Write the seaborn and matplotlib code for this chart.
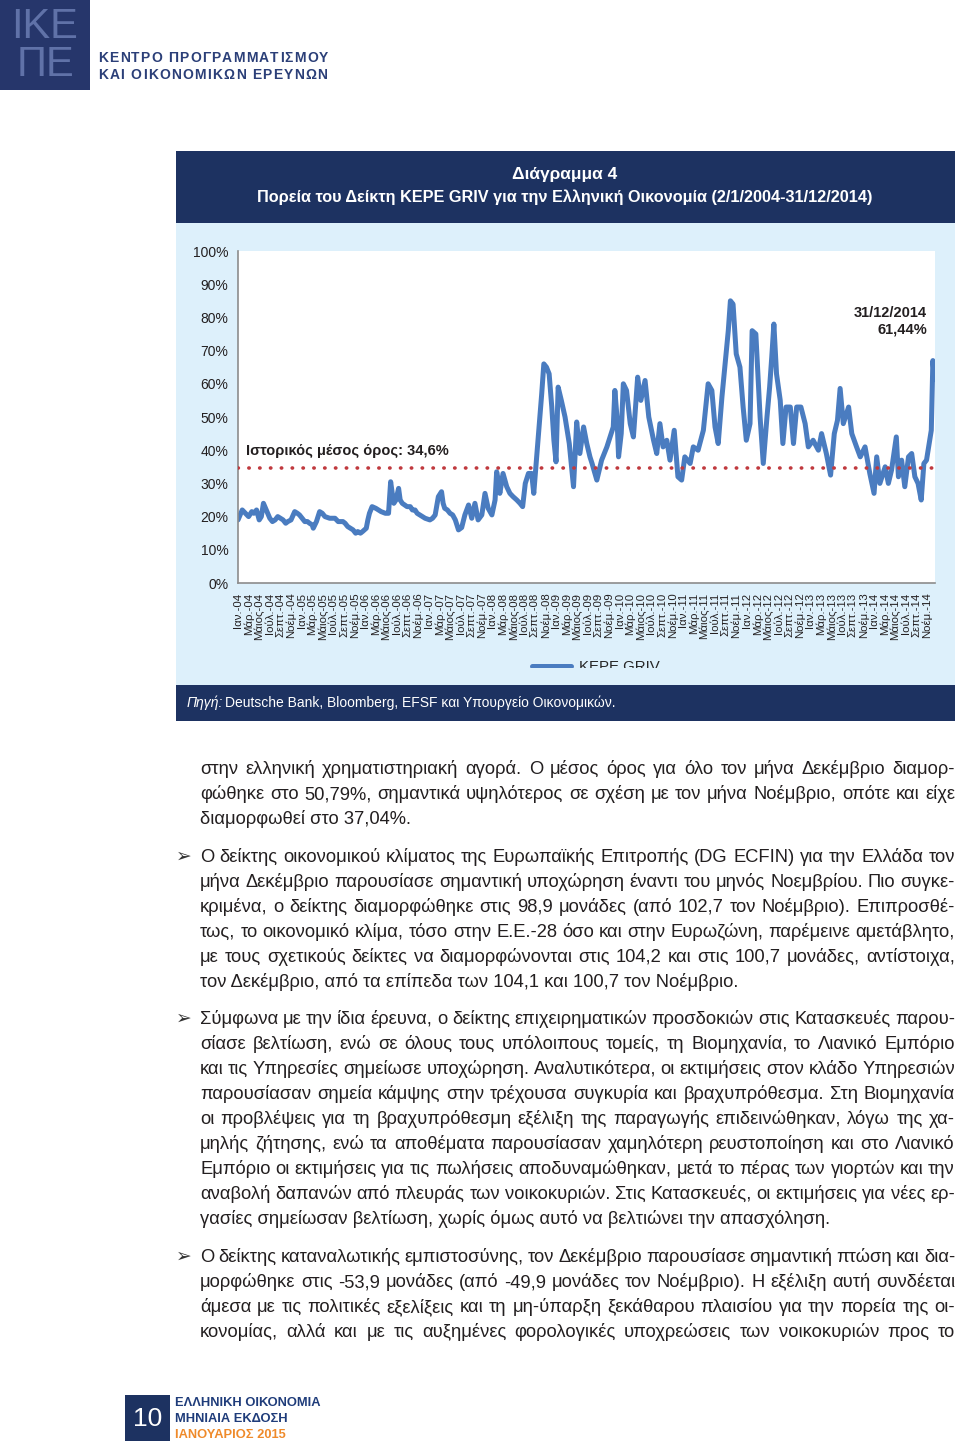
import numpy as np
import pandas as pd
import matplotlib

matplotlib.use("Agg")
import matplotlib.pyplot as plt
from matplotlib.patches import Rectangle
import seaborn as sns

# ------------------------------------------------------------------
# Δεδομένα: δείκτης KEPE GRIV (%), θέση σε μήνες από Ιαν. 2004
# ------------------------------------------------------------------
months = [
    0.0, 0.4, 0.8, 1.4, 2.0, 2.6, 3.0, 3.5, 4.0, 4.4, 4.8, 5.2, 5.6, 6.0, 6.5,
    7.0, 7.5, 8.0, 8.5, 9.0, 9.4, 10.0, 10.7, 11.2, 11.6, 12.1, 12.6, 13.1,
    13.5, 14.0, 14.2, 14.8, 15.4, 15.9, 16.4, 17.3, 18.3, 18.9, 19.8, 20.2,
    20.7, 21.2, 21.7, 22.2, 22.6, 23.1, 23.5, 24.2, 24.5, 24.8, 25.3, 26.0,
    26.5, 27.0, 27.8, 28.4, 28.8, 29.1, 29.4, 29.8, 30.3, 30.6, 31.0, 31.9,
    32.5, 32.9, 33.4, 33.8, 34.3, 35.3, 36.2, 36.7, 37.2, 37.8, 38.4, 38.7,
    39.0, 39.5, 40.0, 40.5, 41.0, 41.6, 42.2, 42.8, 43.5, 44.1, 44.7, 45.3,
    46.0, 46.6, 47.2, 47.9, 48.5, 48.8, 49.1, 49.4, 50.0, 50.7, 51.3, 51.9,
    52.6, 53.2, 53.7, 54.2, 54.8, 55.4, 55.8, 56.2, 56.7, 57.3, 57.7, 58.2,
    58.7, 59.2, 59.6, 60.0, 60.4, 61.0, 61.7, 62.5, 63.3, 63.9, 64.5, 65.2,
    65.8, 66.4, 66.8, 67.7, 68.6, 69.6, 70.2, 70.8, 71.1, 71.5, 71.8, 72.3,
    72.7, 73.3, 74.0, 74.6, 75.4, 76.0, 76.8, 77.5, 78.4, 79.0, 79.6, 80.2,
    80.9, 81.5, 82.3, 83.0, 83.7, 84.3, 85.3, 85.9, 86.8, 87.8, 88.7, 89.4,
    90.0, 90.6, 91.3, 91.9, 92.5, 92.9, 93.4, 94.0, 94.7, 95.3, 95.9, 96.6,
    97.0, 97.7, 98.5, 99.1, 99.8, 100.3, 100.7, 101.1, 101.6, 102.3, 102.8,
    103.4, 104.2, 104.8, 105.4, 106.2, 107.0, 107.6, 108.5, 109.5, 110.1,
    111.0, 111.8, 112.5, 113.1, 113.6, 114.2, 115.2, 115.8, 116.7, 117.4,
    118.3, 119.2, 120.0, 120.5, 121.1, 122.1, 122.7, 123.3, 124.2, 124.6,
    125.2, 125.8, 126.5, 127.1, 127.7, 128.3, 128.9, 129.4, 129.9, 130.4,
    130.8, 131.1, 131.4,
]
griv = [
    19, 20.5, 22, 21, 20, 21.5, 21, 22, 19, 20, 24, 22.5, 21, 19.5, 18.5,
    19, 20, 19.5, 19, 18, 18.5, 19, 21.5, 21, 20.5, 19.5, 18.5, 18.5,
    18, 17.5, 16.5, 18.5, 21.5, 21, 20, 19.5, 19.5, 18.5, 18.5, 18,
    17, 16.5, 16, 15, 15.5, 15, 15.5, 16.5, 19, 21, 23, 22.5,
    22, 21.5, 21, 21, 30.5, 27, 24, 25, 28.5, 25, 24, 23,
    23, 22, 22, 21, 20.5, 19.5, 19, 19.5, 20.5, 26, 27.5, 24,
    22.5, 22, 21, 20.5, 19, 16, 16.7, 20.5, 23.5, 19.5, 24, 19,
    20.5, 27, 22.5, 20.5, 25, 33.5, 31, 27, 33, 29, 27, 26,
    25, 24, 23, 30, 33, 33, 27, 35, 45, 57, 66, 65,
    63, 53, 43, 36.5, 59, 55, 50, 42, 29, 48.5, 39, 47,
    42, 38, 36, 31, 37, 41, 44, 47, 58, 50, 38, 45,
    60, 58, 48, 44, 62, 55, 61, 50, 43, 39, 48, 41,
    43, 37, 46, 32, 31, 38, 36, 41, 40, 46, 60, 58,
    47, 42, 56, 66, 76, 85, 84, 69, 65, 53, 43, 48,
    76, 75, 50, 36, 50, 59, 68, 78, 63, 55, 42,
    53, 53, 42, 53, 53, 48, 41, 43, 40, 45,
    39, 32.5, 45, 49, 58.6, 48, 53, 45, 41, 38,
    41, 33, 27, 38, 30, 35, 30, 34, 44, 32,
    37, 29, 38, 39, 32, 30, 25, 36, 37, 42,
    46, 67, 61.44,
]
hist_mean = 34.6

month_names = ["Ιαν.", "Μάρ.", "Μάιος", "Ιούλ.", "Σεπτ.", "Νοέμ."]
years = list(range(2004, 2015))

para1 = [
    "στην ελληνική  χρηματιστηριακή αγορά. Ο μέσος όρος για όλο τον μήνα Δεκέμβριο διαμορ-",
    "φώθηκε στο 50,79%, σημαντικά υψηλότερος σε σχέση με τον μήνα Νοέμβριο, οπότε και είχε",
    "διαμορφωθεί στο 37,04%.",
]
para2 = [
    "Ο δείκτης οικονομικού κλίματος της Ευρωπαϊκής Επιτροπής (DG ECFIN) για την Ελλάδα τον",
    "μήνα Δεκέμβριο παρουσίασε σημαντική υποχώρηση έναντι του μηνός Νοεμβρίου. Πιο συγκε-",
    "κριμένα, ο δείκτης διαμορφώθηκε στις 98,9 μονάδες (από 102,7 τον Νοέμβριο). Επιπροσθέ-",
    "τως, το οικονομικό κλίμα, τόσο στην Ε.Ε.-28 όσο και στην Ευρωζώνη, παρέμεινε αμετάβλητο,",
    "με τους σχετικούς δείκτες να διαμορφώνονται στις 104,2 και στις 100,7 μονάδες, αντίστοιχα,",
    "τον Δεκέμβριο, από τα επίπεδα των 104,1 και 100,7 τον Νοέμβριο.",
]
para3 = [
    "Σύμφωνα με την ίδια έρευνα, ο δείκτης επιχειρηματικών προσδοκιών στις Κατασκευές παρου-",
    "σίασε βελτίωση, ενώ σε όλους τους υπόλοιπους τομείς, τη Βιομηχανία, το Λιανικό Εμπόριο",
    "και τις Υπηρεσίες σημείωσε υποχώρηση. Αναλυτικότερα, οι εκτιμήσεις στον κλάδο Υπηρεσιών",
    "παρουσίασαν σημεία κάμψης στην τρέχουσα συγκυρία και βραχυπρόθεσμα. Στη Βιομηχανία",
    "οι προβλέψεις για τη βραχυπρόθεσμη εξέλιξη της παραγωγής επιδεινώθηκαν, λόγω της χα-",
    "μηλής ζήτησης, ενώ τα αποθέματα παρουσίασαν χαμηλότερη ρευστοποίηση και στο Λιανικό",
    "Εμπόριο οι εκτιμήσεις για τις πωλήσεις αποδυναμώθηκαν, μετά το πέρας των γιορτών και την",
    "αναβολή δαπανών από πλευράς των νοικοκυριών. Στις Κατασκευές, οι εκτιμήσεις για νέες ερ-",
    "γασίες σημείωσαν βελτίωση, χωρίς όμως αυτό να βελτιώνει την απασχόληση.",
]
para4 = [
    "Ο δείκτης καταναλωτικής εμπιστοσύνης, τον Δεκέμβριο παρουσίασε σημαντική πτώση και δια-",
    "μορφώθηκε στις -53,9 μονάδες (από -49,9 μονάδες τον Νοέμβριο). Η εξέλιξη αυτή συνδέεται",
    "άμεσα με τις πολιτικές εξελίξεις και τη μη-ύπαρξη ξεκάθαρου πλαισίου για την πορεία της οι-",
    "κονομίας, αλλά και με τις αυξημένες φορολογικές υποχρεώσεις των νοικοκυριών προς το",
]

NAVY = "#1d3261"
LIGHT = "#ddf0fb"
LINE_BLUE = "#4a7cc0"
TEXT = "#231f20"

sns.set_style("white")
plt.rcParams["font.family"] = ["Liberation Sans", "DejaVu Sans"]

W, H = 960, 1443
fig = plt.figure(figsize=(W / 100, H / 100), dpi=100)
renderer = fig.canvas.get_renderer()


def fx(x):
    return x / W


def fy(y):
    return 1 - y / H


def box(x0, y0, x1, y1, color, z=1):
    fig.add_artist(Rectangle((fx(x0), fy(y1)), (x1 - x0) / W, (y1 - y0) / H,
                             transform=fig.transFigure, color=color, lw=0, zorder=z))


def tracked(x, y, s, extra, **kw):
    # κείμενο με αραιωμένα γράμματα
    for ch in s:
        t = fig.text(fx(x), fy(y), ch, **kw)
        x += t.get_window_extent(renderer).width + extra


# --- κεφαλίδα ---
box(0, 0, 90, 90, "#26366b")
fig.text(fx(45), fy(27), "ΙΚΕ", color="#6072a8", fontsize=30, ha="center", va="center")
fig.text(fx(45), fy(65), "ΠΕ", color="#6072a8", fontsize=30, ha="center", va="center")
tracked(98, 62, "ΚΕΝΤΡΟ ΠΡΟΓΡΑΜΜΑΤΙΣΜΟΥ", 1.25, color="#2b3f78", fontsize=10,
        fontweight="bold", va="baseline")
tracked(98, 79, "ΚΑΙ ΟΙΚΟΝΟΜΙΚΩΝ ΕΡΕΥΝΩΝ", 1.25, color="#2b3f78", fontsize=10,
        fontweight="bold", va="baseline")

# --- πλαίσιο διαγράμματος ---
box(176, 151, 955, 223, NAVY)
box(176, 223, 955, 685, LIGHT, z=-1)
box(176, 685, 955, 721, NAVY)
fig.text(fx(565), fy(175), "Διάγραμμα 4", color="white", fontsize=12.5,
         fontweight="bold", ha="center", va="center")
fig.text(fx(565), fy(197),
         "Πορεία του Δείκτη KEPE GRIV για την Ελληνική Οικονομία (2/1/2004-31/12/2014)",
         color="white", fontsize=11.7, fontweight="bold", ha="center", va="center")
fig.text(fx(187), fy(703), "Πηγή:", color="white", fontsize=10, style="italic", va="center")
fig.text(fx(225), fy(703), "Deutsche Bank, Bloomberg, EFSF και Υπουργείο Οικονομικών.",
         color="white", fontsize=10, va="center")

ax = fig.add_axes([fx(238), fy(583), (935 - 238) / W, (583 - 251) / H])
ax.set_facecolor("white")
sns.lineplot(x=months, y=griv, ax=ax, color=LINE_BLUE, lw=3.6, label="KEPE GRIV")
ax.axhline(hist_mean, color="#c0393e", lw=2.6, linestyle=(0, (0.1, 2.9)),
           dash_capstyle="round", zorder=3)

ax.set_xlim(0, 131.5)
ax.set_ylim(0, 100)
ax.set_yticks(np.arange(0, 101, 10))
ax.set_yticklabels([f"{v}%" for v in range(0, 101, 10)], fontsize=10, color=TEXT)
xt = np.arange(0, 132, 2)
ax.set_xticks(xt)
ax.set_xticklabels([f"{month_names[(m % 12) // 2]}-{str(years[m // 12])[2:]}" for m in xt],
                   rotation=90, fontsize=8.2, color=TEXT)
ax.tick_params(axis="both", length=5, width=1, color="#8c8c8c", direction="out", pad=2)
for s in ["top", "right"]:
    ax.spines[s].set_visible(False)
for s in ["left", "bottom"]:
    ax.spines[s].set_color("#8c8c8c")
    ax.spines[s].set_linewidth(1.2)

ax.text(1.5, 39.8, "Ιστορικός μέσος όρος: 34,6%", fontsize=10.5, fontweight="bold",
        color=TEXT, va="center")
ax.text(130, 78.8, "31/12/2014\n61,44%", fontsize=10.5, fontweight="bold",
        color=TEXT, ha="right", va="center", linespacing=1.25)

ax.legend(loc="center", bbox_to_anchor=(fx(596), fy(667)), bbox_transform=fig.transFigure,
          frameon=False, fontsize=10.8, handlelength=2.6, handletextpad=0.5)
# το υπόμνημα είναι κομμένο στο πρωτότυπο
box(176, 668, 955, 685, LIGHT, z=2)

# --- κείμενο ---
X0, X1, LH, FS = 200, 955, 25, 13.2


def paragraph(lines, y0, bullet=False, justify_last=False):
    if bullet:
        fig.text(fx(176), fy(y0 + 6), "➢", fontsize=13.5, color="#333333", va="baseline",
                 family=["DejaVu Sans"])
    for i, line in enumerate(lines):
        y = y0 + i * LH + 6
        if i == len(lines) - 1 and not justify_last:
            fig.text(fx(X0), fy(y), line, fontsize=FS, color=TEXT, va="baseline")
            continue
        words = line.split()
        arts = [fig.text(0, fy(y), w, fontsize=FS, color=TEXT, va="baseline") for w in words]
        widths = [a.get_window_extent(renderer).width for a in arts]
        gap = max((X1 - X0 - sum(widths)) / (len(words) - 1), 2.5)
        xx = X0
        for a, w in zip(arts, widths):
            a.set_x(fx(xx))
            xx += w + gap


paragraph(para1, 768)
paragraph(para2, 856, bullet=True)
paragraph(para3, 1018, bullet=True)
paragraph(para4, 1256, bullet=True, justify_last=True)

# --- υποσέλιδο ---
box(125, 1395, 170, 1441, NAVY)
fig.text(fx(147.5), fy(1419), "10", color="white", fontsize=19, ha="center", va="center")
fig.text(fx(175), fy(1403), "ΕΛΛΗΝΙΚΗ ΟΙΚΟΝΟΜΙΑ", color="#1f3c7a", fontsize=9.3,
         fontweight="bold", va="center")
fig.text(fx(175), fy(1419), "ΜΗΝΙΑΙΑ ΕΚΔΟΣΗ", color="#1f3c7a", fontsize=9.3,
         fontweight="bold", va="center")
fig.text(fx(175), fy(1435), "ΙΑΝΟΥΑΡΙΟΣ 2015", color="#ef8a2a", fontsize=9.3,
         fontweight="bold", va="center")

fig.savefig("out.png", dpi=100)
